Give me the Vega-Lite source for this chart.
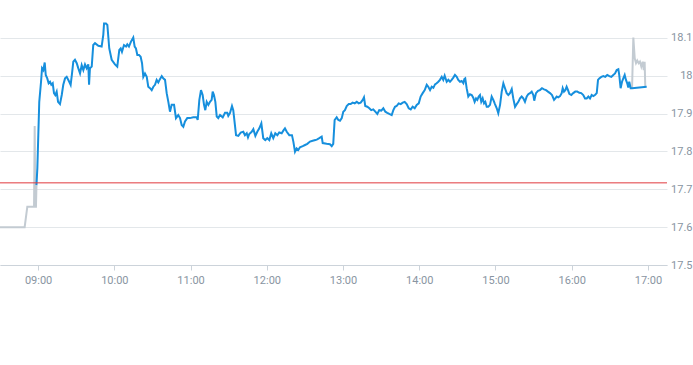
{
  "$schema": "https://vega.github.io/schema/vega-lite/v6.json",
  "width": 667,
  "height": 265,
  "autosize": {"type": "none"},
  "padding": {"left": 0, "top": 0, "right": 26, "bottom": 100},
  "config": {"view": {"stroke": null}, "font": "Roboto"},
  "datasets": {
    "price": [
      {"s":"pre","m":510,"v":17.600},{"s":"pre","m":529.4,"v":17.600},{"s":"pre","m":531.5,"v":17.654},{"s":"pre","m":536.8,"v":17.654},{"s":"pre","m":537.3,"v":17.867},{"s":"pre","m":537.8,"v":17.654},{"s":"pre","m":538.3,"v":17.654},{"s":"pre","m":538.7,"v":17.711},
      {"s":"main","m":538.7,"v":17.711},{"s":"main","m":539.4,"v":17.756},{"s":"main","m":540.9,"v":17.931},{"s":"main","m":542.3,"v":17.984},{"s":"main","m":543.1,"v":18.020},{"s":"main","m":544.1,"v":18.015},{"s":"main","m":545.2,"v":18.035},{"s":"main","m":546.0,"v":18.002},{"s":"main","m":547.2,"v":17.993},{"s":"main","m":548.3,"v":17.980},{"s":"main","m":549.4,"v":17.984},{"s":"main","m":550.4,"v":17.976},{"s":"main","m":551.5,"v":17.980},{"s":"main","m":552.5,"v":17.954},{"s":"main","m":553.5,"v":17.949},{"s":"main","m":554.6,"v":17.958},{"s":"main","m":555.7,"v":17.931},{"s":"main","m":557.2,"v":17.925},{"s":"main","m":558.6,"v":17.949},{"s":"main","m":559.8,"v":17.976},{"s":"main","m":561.2,"v":17.993},{"s":"main","m":562.5,"v":17.997},{"s":"main","m":564.5,"v":17.984},{"s":"main","m":565.6,"v":17.976},{"s":"main","m":566.7,"v":18.006},{"s":"main","m":567.7,"v":18.037},{"s":"main","m":569.0,"v":18.042},{"s":"main","m":570.4,"v":18.033},{"s":"main","m":571.6,"v":18.020},{"s":"main","m":573.0,"v":18.006},{"s":"main","m":574.3,"v":18.028},{"s":"main","m":575.6,"v":18.015},{"s":"main","m":576.9,"v":18.030},{"s":"main","m":578.2,"v":18.020},{"s":"main","m":579.5,"v":18.030},{"s":"main","m":580.1,"v":17.976},{"s":"main","m":580.8,"v":18.020},{"s":"main","m":582.2,"v":18.024},{"s":"main","m":583.4,"v":18.081},{"s":"main","m":584.8,"v":18.086},{"s":"main","m":587.4,"v":18.079},{"s":"main","m":590.0,"v":18.077},{"s":"main","m":591.3,"v":18.108},{"s":"main","m":591.9,"v":18.138},{"s":"main","m":593.4,"v":18.138},{"s":"main","m":594.5,"v":18.134},{"s":"main","m":596.0,"v":18.072},{"s":"main","m":597.9,"v":18.042},{"s":"main","m":600.5,"v":18.030},{"s":"main","m":602.3,"v":18.024},{"s":"main","m":603.9,"v":18.068},{"s":"main","m":605.0,"v":18.072},{"s":"main","m":606.0,"v":18.063},{"s":"main","m":607.6,"v":18.081},{"s":"main","m":609.2,"v":18.077},{"s":"main","m":610.2,"v":18.083},{"s":"main","m":611.5,"v":18.077},{"s":"main","m":613.1,"v":18.090},{"s":"main","m":614.9,"v":18.101},{"s":"main","m":616.0,"v":18.077},{"s":"main","m":617.0,"v":18.072},{"s":"main","m":618.1,"v":18.055},{"s":"main","m":619.4,"v":18.055},{"s":"main","m":620.7,"v":18.050},{"s":"main","m":621.8,"v":18.033},{"s":"main","m":622.8,"v":17.997},{"s":"main","m":624.1,"v":18.006},{"s":"main","m":625.5,"v":17.997},{"s":"main","m":626.7,"v":17.971},{"s":"main","m":628.1,"v":17.967},{"s":"main","m":629.4,"v":17.962},{"s":"main","m":630.7,"v":17.971},{"s":"main","m":632.0,"v":17.976},{"s":"main","m":633.3,"v":17.989},{"s":"main","m":634.6,"v":17.982},{"s":"main","m":635.9,"v":17.991},{"s":"main","m":637.3,"v":17.999},{"s":"main","m":638.5,"v":17.993},{"s":"main","m":639.9,"v":17.989},{"s":"main","m":641.2,"v":17.954},{"s":"main","m":642.5,"v":17.931},{"s":"main","m":643.8,"v":17.905},{"s":"main","m":645.1,"v":17.923},{"s":"main","m":647.0,"v":17.923},{"s":"main","m":648.5,"v":17.888},{"s":"main","m":650.3,"v":17.896},{"s":"main","m":651.7,"v":17.888},{"s":"main","m":653.0,"v":17.870},{"s":"main","m":654.3,"v":17.865},{"s":"main","m":655.6,"v":17.879},{"s":"main","m":657.4,"v":17.888},{"s":"main","m":659.5,"v":17.888},{"s":"main","m":662.1,"v":17.890},{"s":"main","m":664.8,"v":17.890},{"s":"main","m":665.6,"v":17.883},{"s":"main","m":666.9,"v":17.936},{"s":"main","m":668.2,"v":17.962},{"s":"main","m":669.5,"v":17.949},{"s":"main","m":670.6,"v":17.923},{"s":"main","m":671.6,"v":17.909},{"s":"main","m":672.7,"v":17.931},{"s":"main","m":674.0,"v":17.923},{"s":"main","m":675.3,"v":17.931},{"s":"main","m":676.6,"v":17.936},{"s":"main","m":677.4,"v":17.958},{"s":"main","m":678.4,"v":17.949},{"s":"main","m":679.5,"v":17.931},{"s":"main","m":680.6,"v":17.892},{"s":"main","m":681.8,"v":17.888},{"s":"main","m":683.2,"v":17.896},{"s":"main","m":685.3,"v":17.890},{"s":"main","m":687.1,"v":17.902},{"s":"main","m":688.9,"v":17.902},{"s":"main","m":689.7,"v":17.894},{"s":"main","m":691.0,"v":17.901},{"s":"main","m":692.6,"v":17.920},{"s":"main","m":693.6,"v":17.909},{"s":"main","m":695.8,"v":17.843},{"s":"main","m":697.6,"v":17.841},{"s":"main","m":699.5,"v":17.850},{"s":"main","m":701.5,"v":17.852},{"s":"main","m":702.8,"v":17.843},{"s":"main","m":704.2,"v":17.848},{"s":"main","m":705.2,"v":17.837},{"s":"main","m":706.2,"v":17.846},{"s":"main","m":708.1,"v":17.852},{"s":"main","m":709.4,"v":17.859},{"s":"main","m":711.0,"v":17.841},{"s":"main","m":712.5,"v":17.852},{"s":"main","m":714.1,"v":17.861},{"s":"main","m":715.7,"v":17.874},{"s":"main","m":717.2,"v":17.835},{"s":"main","m":718.8,"v":17.830},{"s":"main","m":720.4,"v":17.835},{"s":"main","m":722.0,"v":17.830},{"s":"main","m":723.5,"v":17.848},{"s":"main","m":725.1,"v":17.835},{"s":"main","m":726.7,"v":17.848},{"s":"main","m":728.3,"v":17.843},{"s":"main","m":729.8,"v":17.850},{"s":"main","m":731.7,"v":17.848},{"s":"main","m":733.0,"v":17.855},{"s":"main","m":734.3,"v":17.861},{"s":"main","m":735.7,"v":17.852},{"s":"main","m":737.7,"v":17.843},{"s":"main","m":739.8,"v":17.843},{"s":"main","m":740.9,"v":17.826},{"s":"main","m":742.2,"v":17.799},{"s":"main","m":743.5,"v":17.808},{"s":"main","m":744.8,"v":17.804},{"s":"main","m":746.1,"v":17.811},{"s":"main","m":748.3,"v":17.814},{"s":"main","m":750.1,"v":17.817},{"s":"main","m":751.9,"v":17.820},{"s":"main","m":754.0,"v":17.826},{"s":"main","m":756.1,"v":17.828},{"s":"main","m":758.2,"v":17.830},{"s":"main","m":759.7,"v":17.832},{"s":"main","m":761.3,"v":17.835},{"s":"main","m":763.2,"v":17.839},{"s":"main","m":764.0,"v":17.822},{"s":"main","m":767.1,"v":17.820},{"s":"main","m":769.7,"v":17.819},{"s":"main","m":771.1,"v":17.814},{"s":"main","m":772.3,"v":17.820},{"s":"main","m":773.4,"v":17.883},{"s":"main","m":775.0,"v":17.890},{"s":"main","m":776.3,"v":17.883},{"s":"main","m":777.6,"v":17.881},{"s":"main","m":779.0,"v":17.888},{"s":"main","m":780.2,"v":17.905},{"s":"main","m":781.5,"v":17.909},{"s":"main","m":782.9,"v":17.920},{"s":"main","m":784.5,"v":17.925},{"s":"main","m":786.0,"v":17.925},{"s":"main","m":787.6,"v":17.929},{"s":"main","m":789.2,"v":17.927},{"s":"main","m":790.8,"v":17.931},{"s":"main","m":792.3,"v":17.927},{"s":"main","m":793.9,"v":17.929},{"s":"main","m":795.5,"v":17.936},{"s":"main","m":796.5,"v":17.943},{"s":"main","m":797.5,"v":17.920},{"s":"main","m":799.1,"v":17.918},{"s":"main","m":800.7,"v":17.914},{"s":"main","m":802.2,"v":17.909},{"s":"main","m":803.8,"v":17.911},{"s":"main","m":805.4,"v":17.905},{"s":"main","m":807.0,"v":17.899},{"s":"main","m":808.5,"v":17.909},{"s":"main","m":810.1,"v":17.908},{"s":"main","m":811.7,"v":17.914},{"s":"main","m":813.3,"v":17.905},{"s":"main","m":814.8,"v":17.902},{"s":"main","m":816.4,"v":17.899},{"s":"main","m":818.3,"v":17.896},{"s":"main","m":819.6,"v":17.909},{"s":"main","m":820.9,"v":17.918},{"s":"main","m":822.2,"v":17.920},{"s":"main","m":823.8,"v":17.927},{"s":"main","m":825.4,"v":17.925},{"s":"main","m":827.0,"v":17.929},{"s":"main","m":828.5,"v":17.931},{"s":"main","m":830.1,"v":17.925},{"s":"main","m":831.7,"v":17.914},{"s":"main","m":833.3,"v":17.911},{"s":"main","m":834.8,"v":17.918},{"s":"main","m":836.4,"v":17.914},{"s":"main","m":838.0,"v":17.923},{"s":"main","m":839.6,"v":17.927},{"s":"main","m":841.1,"v":17.945},{"s":"main","m":842.7,"v":17.954},{"s":"main","m":844.3,"v":17.962},{"s":"main","m":845.9,"v":17.976},{"s":"main","m":847.1,"v":17.971},{"s":"main","m":848.5,"v":17.962},{"s":"main","m":849.8,"v":17.971},{"s":"main","m":851.1,"v":17.968},{"s":"main","m":852.4,"v":17.977},{"s":"main","m":853.7,"v":17.980},{"s":"main","m":855.0,"v":17.984},{"s":"main","m":856.3,"v":17.989},{"s":"main","m":857.7,"v":17.997},{"s":"main","m":858.9,"v":17.989},{"s":"main","m":860.0,"v":18.000},{"s":"main","m":861.6,"v":17.984},{"s":"main","m":862.9,"v":17.989},{"s":"main","m":864.2,"v":17.984},{"s":"main","m":865.5,"v":17.989},{"s":"main","m":866.8,"v":17.995},{"s":"main","m":868.1,"v":18.002},{"s":"main","m":869.5,"v":17.997},{"s":"main","m":870.7,"v":17.989},{"s":"main","m":872.1,"v":17.984},{"s":"main","m":873.4,"v":17.986},{"s":"main","m":874.7,"v":17.980},{"s":"main","m":875.5,"v":17.991},{"s":"main","m":876.2,"v":17.993},{"s":"main","m":877.3,"v":17.967},{"s":"main","m":878.6,"v":17.945},{"s":"main","m":879.9,"v":17.951},{"s":"main","m":881.3,"v":17.949},{"s":"main","m":882.5,"v":17.942},{"s":"main","m":883.6,"v":17.931},{"s":"main","m":884.7,"v":17.940},{"s":"main","m":885.7,"v":17.936},{"s":"main","m":886.8,"v":17.945},{"s":"main","m":887.8,"v":17.949},{"s":"main","m":888.8,"v":17.931},{"s":"main","m":889.9,"v":17.940},{"s":"main","m":891.0,"v":17.927},{"s":"main","m":892.0,"v":17.931},{"s":"main","m":893.1,"v":17.918},{"s":"main","m":894.3,"v":17.918},{"s":"main","m":895.7,"v":17.923},{"s":"main","m":897.0,"v":17.945},{"s":"main","m":898.3,"v":17.936},{"s":"main","m":899.6,"v":17.925},{"s":"main","m":901.0,"v":17.914},{"s":"main","m":902.2,"v":17.901},{"s":"main","m":903.6,"v":17.923},{"s":"main","m":904.9,"v":17.958},{"s":"main","m":906.2,"v":17.980},{"s":"main","m":907.5,"v":17.967},{"s":"main","m":908.8,"v":17.954},{"s":"main","m":910.1,"v":17.949},{"s":"main","m":911.4,"v":17.954},{"s":"main","m":912.8,"v":17.965},{"s":"main","m":914.0,"v":17.940},{"s":"main","m":915.4,"v":17.918},{"s":"main","m":916.7,"v":17.925},{"s":"main","m":918.0,"v":17.931},{"s":"main","m":919.3,"v":17.940},{"s":"main","m":920.6,"v":17.945},{"s":"main","m":921.9,"v":17.940},{"s":"main","m":923.2,"v":17.931},{"s":"main","m":924.6,"v":17.945},{"s":"main","m":925.8,"v":17.951},{"s":"main","m":927.2,"v":17.954},{"s":"main","m":928.5,"v":17.958},{"s":"main","m":929.8,"v":17.949},{"s":"main","m":930.5,"v":17.934},{"s":"main","m":931.9,"v":17.954},{"s":"main","m":933.5,"v":17.960},{"s":"main","m":935.0,"v":17.962},{"s":"main","m":936.6,"v":17.967},{"s":"main","m":938.2,"v":17.964},{"s":"main","m":939.8,"v":17.962},{"s":"main","m":941.3,"v":17.958},{"s":"main","m":942.9,"v":17.954},{"s":"main","m":944.5,"v":17.949},{"s":"main","m":946.1,"v":17.936},{"s":"main","m":947.1,"v":17.940},{"s":"main","m":948.2,"v":17.945},{"s":"main","m":949.4,"v":17.943},{"s":"main","m":950.8,"v":17.946},{"s":"main","m":952.1,"v":17.954},{"s":"main","m":952.9,"v":17.967},{"s":"main","m":953.9,"v":17.958},{"s":"main","m":955.0,"v":17.962},{"s":"main","m":956.0,"v":17.971},{"s":"main","m":957.1,"v":17.962},{"s":"main","m":958.1,"v":17.952},{"s":"main","m":959.7,"v":17.949},{"s":"main","m":961.2,"v":17.954},{"s":"main","m":962.8,"v":17.958},{"s":"main","m":964.4,"v":17.958},{"s":"main","m":966.0,"v":17.955},{"s":"main","m":967.5,"v":17.954},{"s":"main","m":969.1,"v":17.949},{"s":"main","m":970.5,"v":17.940},{"s":"main","m":971.8,"v":17.940},{"s":"main","m":973.1,"v":17.945},{"s":"main","m":974.4,"v":17.940},{"s":"main","m":975.7,"v":17.949},{"s":"main","m":977.0,"v":17.946},{"s":"main","m":978.3,"v":17.949},{"s":"main","m":979.7,"v":17.954},{"s":"main","m":980.7,"v":17.989},{"s":"main","m":981.7,"v":17.993},{"s":"main","m":983.3,"v":17.997},{"s":"main","m":984.9,"v":17.999},{"s":"main","m":986.4,"v":17.997},{"s":"main","m":988.0,"v":18.002},{"s":"main","m":989.6,"v":17.999},{"s":"main","m":991.2,"v":17.997},{"s":"main","m":992.7,"v":18.002},{"s":"main","m":994.1,"v":18.006},{"s":"main","m":995.4,"v":18.015},{"s":"main","m":996.7,"v":18.017},{"s":"main","m":997.4,"v":18.002},{"s":"main","m":998.5,"v":17.967},{"s":"main","m":999.6,"v":17.984},{"s":"main","m":1000.6,"v":17.993},{"s":"main","m":1001.7,"v":18.002},{"s":"main","m":1002.7,"v":17.989},{"s":"main","m":1003.7,"v":17.980},{"s":"main","m":1004.5,"v":17.969},{"s":"main","m":1005.3,"v":17.984},{"s":"main","m":1006.4,"v":17.967},{"s":"main","m":1007.5,"v":17.967},{"s":"main","m":1019.0,"v":17.971},
      {"s":"post","m":1007.5,"v":17.967},{"s":"post","m":1008.5,"v":18.101},{"s":"post","m":1009.6,"v":18.046},{"s":"post","m":1010.6,"v":18.033},{"s":"post","m":1011.6,"v":18.040},{"s":"post","m":1012.7,"v":18.033},{"s":"post","m":1013.7,"v":18.037},{"s":"post","m":1014.8,"v":18.024},{"s":"post","m":1015.9,"v":18.037},{"s":"post","m":1016.7,"v":18.015},{"s":"post","m":1017.4,"v":18.037},{"s":"post","m":1017.9,"v":17.971}
    ]
  },
  "layer": [
    {
      "data": {"name": "price"},
      "transform": [{"filter": "datum.s !== 'main'"}],
      "mark": {"type": "line", "color": "#c3cbd2", "strokeWidth": 2},
      "encoding": {
        "x": {
          "field": "m", "type": "quantitative",
          "scale": {"domain": [510, 1035], "nice": false, "zero": false},
          "axis": {
            "title": null, "values": [540, 600, 660, 720, 780, 840, 900, 960, 1020],
            "labelExpr": "(datum.value < 600 ? '0' : '') + floor(datum.value / 60) + ':00'",
            "grid": false, "domainColor": "#ccd3da", "tickColor": "#ccd3da", "tickSize": 5,
            "labelColor": "#8995a2", "labelFontSize": 11, "labelPadding": 4, "labelFlush": false
          }
        },
        "y": {
          "field": "v", "type": "quantitative",
          "scale": {"domain": [17.5, 18.2], "nice": false, "zero": false},
          "axis": {
            "title": null, "orient": "right", "values": [17.5, 17.6, 17.7, 17.8, 17.9, 18.0, 18.1],
            "format": "~g", "domain": false, "ticks": false, "tickSize": 0,
            "gridColor": "#e3e7ea", "labelColor": "#8995a2", "labelFontSize": 11,
            "labelAlign": "right", "labelPadding": 25
          }
        },
        "detail": {"field": "s"}
      }
    },
    {
      "data": {"name": "price"},
      "transform": [{"filter": "datum.s === 'main'"}],
      "mark": {"type": "line", "color": "#168fdd", "strokeWidth": 2},
      "encoding": {
        "x": {"field": "m", "type": "quantitative"},
        "y": {"field": "v", "type": "quantitative"}
      }
    },
    {
      "data": {"values": [{"ref": 17.717}]},
      "mark": {"type": "rule", "color": "#e0393e", "strokeWidth": 1},
      "encoding": {"y": {"field": "ref", "type": "quantitative"}}
    }
  ]
}
